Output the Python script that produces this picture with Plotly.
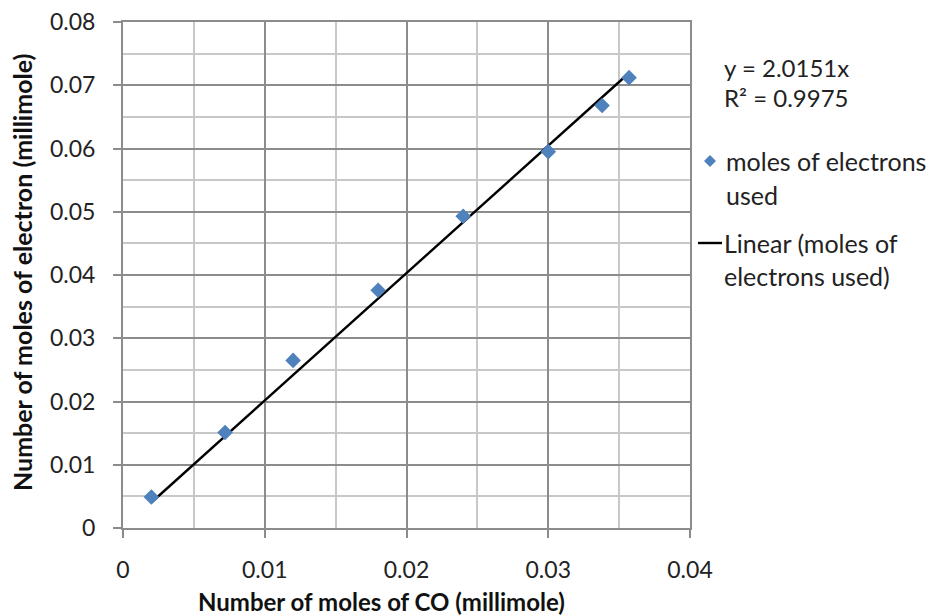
import plotly.graph_objects as go

# Measured amounts (millimole)
co_moles = [0.0020, 0.0072, 0.0120, 0.0180, 0.0240, 0.0300, 0.0338, 0.0357]
electron_moles = [0.0049, 0.0151, 0.0265, 0.0376, 0.0493, 0.0595, 0.0668, 0.0712]

# Linear fit through origin
slope = 2.0151
r_squared = 0.9975

x_ticks = [0, 0.01, 0.02, 0.03, 0.04]
x_tick_text = ["0", "0.01", "0.02", "0.03", "0.04"]
y_ticks = [0, 0.01, 0.02, 0.03, 0.04, 0.05, 0.06, 0.07, 0.08]
y_tick_text = ["0", "0.01", "0.02", "0.03", "0.04", "0.05", "0.06", "0.07", "0.08"]

FONT = "Lato"
MARKER_BLUE = "#4F81BD"
MAJOR_GRID = "#8C8C8C"
MINOR_GRID = "#C8C8C8"

W, H = 937, 616
L, R, T, B = 123, 247, 22, 88
plot_w = W - L - R
plot_h = H - T - B


def px_to_paper(px, py):
    return (px - L) / plot_w, (H - B - py) / plot_h


fig = go.Figure()

fit_x = [min(co_moles), max(co_moles)]
fit_y = [slope * v for v in fit_x]
fig.add_trace(go.Scatter(
    x=fit_x, y=fit_y, mode="lines",
    line=dict(color="black", width=2.4),
    name="Linear (moles of electrons used)", showlegend=False,
))
fig.add_trace(go.Scatter(
    x=co_moles, y=electron_moles, mode="markers",
    marker=dict(symbol="diamond", size=12, color=MARKER_BLUE),
    name="moles of electrons used", showlegend=False,
))

axis_common = dict(
    showline=True, mirror=True, linecolor=MAJOR_GRID, linewidth=2,
    showgrid=True, gridcolor=MAJOR_GRID, gridwidth=2,
    ticks="outside", ticklen=8, tickwidth=2, tickcolor=MAJOR_GRID,
    zeroline=False, automargin=False,
    tickfont=dict(family=FONT, size=23, color="#222222"),
)

fig.update_xaxes(
    range=[0, 0.04], tickvals=x_ticks, ticktext=x_tick_text,
    minor=dict(dtick=0.005, tick0=0, showgrid=True, gridcolor=MINOR_GRID, gridwidth=2, ticks=""),
    ticklabelstandoff=12,
    **axis_common,
)
fig.update_yaxes(
    range=[0, 0.08], tickvals=y_ticks, ticktext=y_tick_text,
    minor=dict(dtick=0.005, tick0=0, showgrid=True, gridcolor=MINOR_GRID, gridwidth=2, ticks=""),
    ticklabelstandoff=13,
    **axis_common,
)

annotations = []


def add_text(text, px, py, size=25, bold=False, angle=0, anchor="left"):
    x, y = px_to_paper(px, py)
    annotations.append(dict(
        text=f"<b>{text}</b>" if bold else text,
        xref="paper", yref="paper", x=x, y=y,
        xanchor=anchor, yanchor="middle", showarrow=False, textangle=angle,
        font=dict(family=FONT, size=size, color="#111111" if bold else "#222222"),
    ))


# Axis titles
add_text("Number of moles of CO (millimole)", 381, 601, size=24, bold=True, anchor="center")
add_text("Number of moles of electron (millimole)", 22, 273, size=25, bold=True, angle=-90, anchor="center")

# Trendline equation
add_text(f"y = {slope}x", 722, 67, size=24)
add_text(f"R² = {r_squared}", 722, 97, size=24)

# Legend entries
add_text("moles of electrons", 724, 161)
add_text("used", 724, 195)
add_text("Linear (moles of", 722, 243)
add_text("electrons used)", 722, 276)

shapes = []
cx, cy = 710, 161
d = 6
pts = [px_to_paper(cx, cy - d), px_to_paper(cx + d, cy), px_to_paper(cx, cy + d), px_to_paper(cx - d, cy)]
path = "M " + " L ".join(f"{p[0]},{p[1]}" for p in pts) + " Z"
shapes.append(dict(type="path", path=path, xref="paper", yref="paper",
                   fillcolor=MARKER_BLUE, line=dict(width=0)))
lx0, ly = px_to_paper(698, 243)
lx1, _ = px_to_paper(722, 243)
shapes.append(dict(type="line", xref="paper", yref="paper", x0=lx0, x1=lx1, y0=ly, y1=ly,
                   line=dict(color="black", width=2.4)))

fig.update_layout(
    width=W, height=H,
    margin=dict(l=L, r=R, t=T, b=B, autoexpand=False),
    paper_bgcolor="white", plot_bgcolor="white",
    annotations=annotations, shapes=shapes,
    showlegend=False,
)

fig.write_html("out.html")
